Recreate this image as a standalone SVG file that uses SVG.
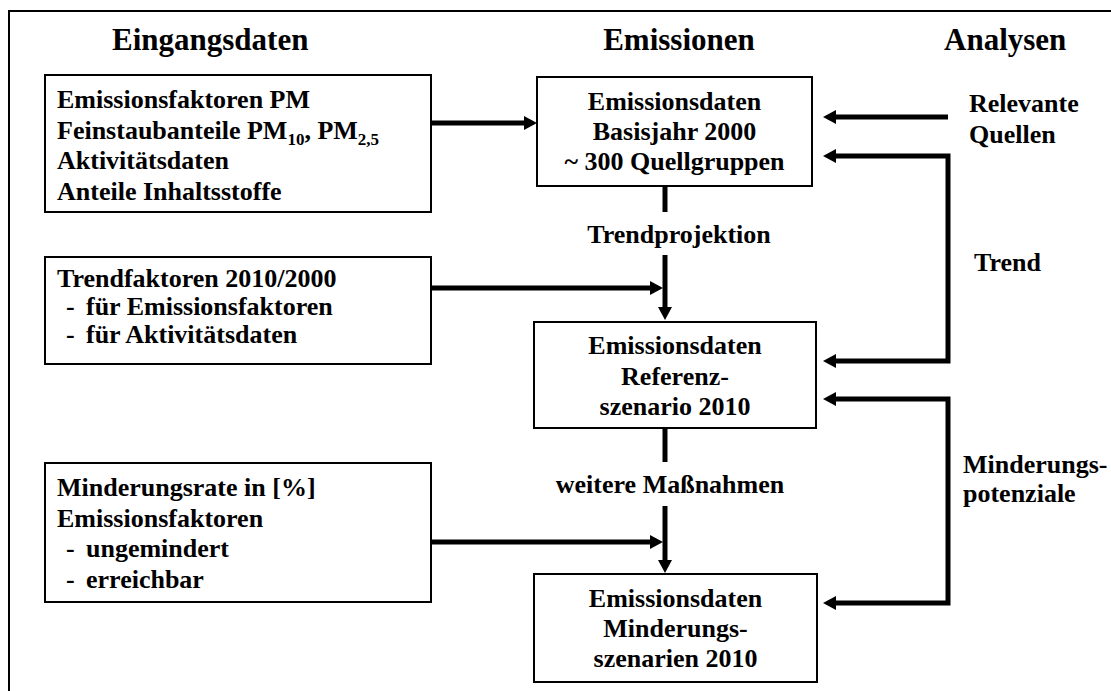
<svg xmlns="http://www.w3.org/2000/svg" width="1111" height="691" viewBox="0 0 1111 691">
<style>
text{font-family:"Liberation Serif","Times New Roman",serif;font-weight:bold;font-size:26px;fill:#000}
.h{font-size:31px}
.c{text-anchor:middle}
.box{fill:#fff;stroke:#000;stroke-width:2}
.con{fill:none;stroke:#000;stroke-width:5}
.frame{fill:none;stroke:#000;stroke-width:2}
.sub{font-size:17px}
</style>
<defs>
<marker id="ah" viewBox="0 -7 13 14" refX="0" refY="0" markerWidth="13" markerHeight="14" markerUnits="userSpaceOnUse" orient="auto-start-reverse">
<path d="M0,-7 L13,0 L0,7 z" fill="#000"/>
</marker>
</defs>
<rect width="1111" height="691" fill="#fff"/>
<path class="frame" d="M9,691 V11 H1111"/>
<g id="headers">
<text class="h" x="112" y="50">Eingangsdaten</text>
<text class="h c" x="679" y="50">Emissionen</text>
<text class="h" x="944" y="50">Analysen</text>
</g>
<g id="n-input1">
<rect class="box" x="45" y="75" width="386" height="137"/>
<text x="57" y="108">Emissionsfaktoren PM</text>
<text x="57" y="138.5">Feinstaubanteile PM<tspan class="sub" dy="6">10</tspan><tspan dy="-6">, PM</tspan><tspan class="sub" dy="6">2,5</tspan></text>
<text x="57" y="169">Aktivitätsdaten</text>
<text x="57" y="199.5">Anteile Inhaltsstoffe</text>
</g>
<g id="n-input2">
<rect class="box" x="45" y="257" width="386" height="107"/>
<text x="57" y="287">Trendfaktoren 2010/2000</text>
<text x="66" y="315">-<tspan x="86">für Emissionsfaktoren</tspan></text>
<text x="66" y="343">-<tspan x="86">für Aktivitätsdaten</tspan></text>
</g>
<g id="n-input3">
<rect class="box" x="45" y="463" width="386" height="139"/>
<text x="57" y="496">Minderungsrate in [%]</text>
<text x="57" y="526.5">Emissionsfaktoren</text>
<text x="66" y="557">-<tspan x="86">ungemindert</tspan></text>
<text x="66" y="588">-<tspan x="86">erreichbar</tspan></text>
</g>
<g id="n-basis">
<rect class="box" x="537" y="77" width="275" height="109"/>
<text class="c" x="674.5" y="110">Emissionsdaten</text>
<text class="c" x="674.5" y="140">Basisjahr 2000</text>
<text class="c" x="674.5" y="170">~ 300 Quellgruppen</text>
</g>
<g id="n-referenz">
<rect class="box" x="534" y="322" width="282" height="106"/>
<text class="c" x="675" y="354">Emissionsdaten</text>
<text class="c" x="675" y="385">Referenz-</text>
<text class="c" x="675" y="415">szenario 2010</text>
</g>
<g id="n-minderung">
<rect class="box" x="534" y="574" width="283" height="108"/>
<text class="c" x="675.5" y="607">Emissionsdaten</text>
<text class="c" x="675.5" y="637">Minderungs-</text>
<text class="c" x="675.5" y="667">szenarien 2010</text>
</g>
<g id="labels">
<text class="c" x="679" y="243">Trendprojektion</text>
<text class="c" x="670" y="493">weitere Maßnahmen</text>
<text x="969" y="112">Relevante</text>
<text x="969" y="143">Quellen</text>
<text x="974" y="271">Trend</text>
<text x="963" y="473">Minderungs-</text>
<text x="963" y="502">potenziale</text>
</g>
<g id="connectors">
<path class="con" d="M431,123 H524" marker-end="url(#ah)"/>
<path class="con" d="M948,117 H836" marker-end="url(#ah)"/>
<path class="con" d="M836,156 H948 V361 H836" marker-start="url(#ah)" marker-end="url(#ah)"/>
<path class="con" d="M836,399 H948 V603 H836" marker-start="url(#ah)" marker-end="url(#ah)"/>
<path class="con" d="M665,186 V212"/>
<path class="con" d="M665,255 V307" marker-end="url(#ah)"/>
<path class="con" d="M431,288 H650" marker-end="url(#ah)"/>
<path class="con" d="M665,428 V462"/>
<path class="con" d="M665,506 V560" marker-end="url(#ah)"/>
<path class="con" d="M431,542 H650" marker-end="url(#ah)"/>
</g>
</svg>
